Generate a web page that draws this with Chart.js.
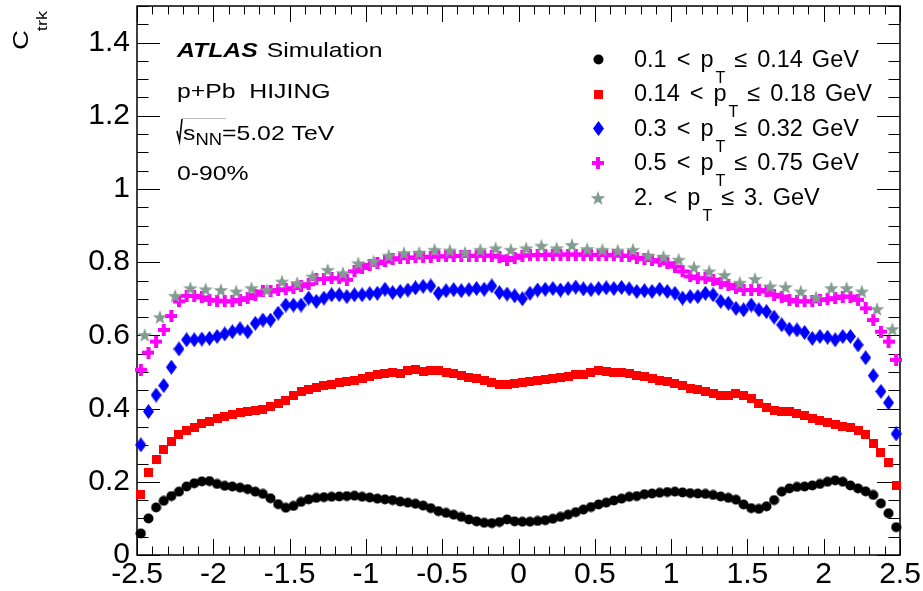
<!DOCTYPE html>
<html>
<head>
<meta charset="utf-8">
<script src="https://cdn.jsdelivr.net/npm/chart.js@4/dist/chart.umd.min.js"></script>
<style>
  html, body { margin: 0; padding: 0; background: #fff; }
  #wrap { width: 923px; height: 591px; }
</style>
</head>
<body>
<div id="wrap"><canvas id="ctrk" width="923" height="591"></canvas></div>
<script>
// eta bin centres: 0.05 wide bins for the four low-pT selections, 0.1 wide for the high-pT one
const etaFine = [
  -2.475, -2.425, -2.375, -2.325, -2.275, -2.225, -2.175, -2.125, -2.075, -2.025,
  -1.975, -1.925, -1.875, -1.825, -1.775, -1.725, -1.675, -1.625, -1.575, -1.525,
  -1.475, -1.425, -1.375, -1.325, -1.275, -1.225, -1.175, -1.125, -1.075, -1.025,
  -0.975, -0.925, -0.875, -0.825, -0.775, -0.725, -0.675, -0.625, -0.575, -0.525,
  -0.475, -0.425, -0.375, -0.325, -0.275, -0.225, -0.175, -0.125, -0.075, -0.025,
  0.025, 0.075, 0.125, 0.175, 0.225, 0.275, 0.325, 0.375, 0.425, 0.475,
  0.525, 0.575, 0.625, 0.675, 0.725, 0.775, 0.825, 0.875, 0.925, 0.975,
  1.025, 1.075, 1.125, 1.175, 1.225, 1.275, 1.325, 1.375, 1.425, 1.475,
  1.525, 1.575, 1.625, 1.675, 1.725, 1.775, 1.825, 1.875, 1.925, 1.975,
  2.025, 2.075, 2.125, 2.175, 2.225, 2.275, 2.325, 2.375, 2.425, 2.475
];
const etaCoarse = [
  -2.45, -2.35, -2.25, -2.15, -2.05, -1.95, -1.85, -1.75, -1.65, -1.55,
  -1.45, -1.35, -1.25, -1.15, -1.05, -0.95, -0.85, -0.75, -0.65, -0.55,
  -0.45, -0.35, -0.25, -0.15, -0.05, 0.05, 0.15, 0.25, 0.35, 0.45,
  0.55, 0.65, 0.75, 0.85, 0.95, 1.05, 1.15, 1.25, 1.35, 1.45,
  1.55, 1.65, 1.75, 1.85, 1.95, 2.05, 2.15, 2.25, 2.35, 2.45
];

// C_trk per pT selection
const ctrkPt010 = [
  0.059, 0.100, 0.130, 0.148, 0.161, 0.173, 0.187, 0.196, 0.201, 0.202,
  0.194, 0.189, 0.187, 0.184, 0.180, 0.173, 0.167, 0.155, 0.139, 0.129,
  0.134, 0.145, 0.152, 0.156, 0.158, 0.159, 0.160, 0.161, 0.162, 0.159,
  0.157, 0.154, 0.152, 0.150, 0.146, 0.143, 0.140, 0.135, 0.128, 0.120,
  0.115, 0.110, 0.104, 0.097, 0.092, 0.088, 0.087, 0.090, 0.097, 0.092,
  0.091, 0.091, 0.093, 0.095, 0.099, 0.104, 0.110, 0.117, 0.124, 0.131,
  0.138, 0.143, 0.149, 0.154, 0.159, 0.161, 0.166, 0.168, 0.170, 0.172,
  0.173, 0.171, 0.169, 0.168, 0.167, 0.164, 0.160, 0.156, 0.151, 0.138,
  0.128, 0.126, 0.133, 0.150, 0.173, 0.182, 0.186, 0.187, 0.190, 0.194,
  0.200, 0.204, 0.200, 0.190, 0.182, 0.174, 0.164, 0.141, 0.114, 0.076
];
const ctrkPt014 = [
  0.164, 0.225, 0.262, 0.287, 0.310, 0.328, 0.339, 0.349, 0.358, 0.364,
  0.372, 0.378, 0.383, 0.390, 0.392, 0.395, 0.398, 0.405, 0.413, 0.422,
  0.437, 0.446, 0.452, 0.457, 0.462, 0.467, 0.471, 0.474, 0.478, 0.483,
  0.487, 0.493, 0.497, 0.498, 0.497, 0.503, 0.506, 0.502, 0.503, 0.505,
  0.500, 0.495, 0.490, 0.485, 0.481, 0.476, 0.471, 0.467, 0.466, 0.468,
  0.470, 0.473, 0.476, 0.479, 0.482, 0.486, 0.489, 0.492, 0.494, 0.499,
  0.503, 0.502, 0.498, 0.500, 0.495, 0.490, 0.487, 0.482, 0.477, 0.473,
  0.469, 0.464, 0.456, 0.452, 0.447, 0.441, 0.436, 0.437, 0.442, 0.436,
  0.427, 0.413, 0.403, 0.394, 0.392, 0.392, 0.386, 0.380, 0.374, 0.367,
  0.362, 0.357, 0.352, 0.347, 0.340, 0.330, 0.305, 0.280, 0.253, 0.190
];
const ctrkPt030 = [
  0.301, 0.392, 0.437, 0.463, 0.513, 0.563, 0.588, 0.588, 0.590, 0.592,
  0.597, 0.604, 0.610, 0.618, 0.610, 0.633, 0.642, 0.642, 0.661, 0.683,
  0.683, 0.683, 0.702, 0.693, 0.702, 0.711, 0.711, 0.706, 0.711, 0.711,
  0.714, 0.715, 0.726, 0.717, 0.720, 0.724, 0.730, 0.734, 0.735, 0.715,
  0.722, 0.725, 0.722, 0.725, 0.728, 0.726, 0.735, 0.717, 0.713, 0.708,
  0.700, 0.715, 0.724, 0.726, 0.728, 0.724, 0.728, 0.732, 0.727, 0.725,
  0.728, 0.730, 0.728, 0.731, 0.727, 0.720, 0.722, 0.720, 0.726, 0.720,
  0.715, 0.702, 0.706, 0.706, 0.715, 0.711, 0.693, 0.688, 0.674, 0.670,
  0.683, 0.670, 0.665, 0.650, 0.629, 0.617, 0.615, 0.608, 0.592, 0.597,
  0.595, 0.588, 0.597, 0.597, 0.574, 0.539, 0.490, 0.447, 0.416, 0.331
];
const ctrkPt050 = [
  0.506, 0.553, 0.583, 0.615, 0.653, 0.693, 0.708, 0.708, 0.704, 0.697,
  0.695, 0.693, 0.693, 0.697, 0.702, 0.711, 0.720, 0.720, 0.724, 0.726,
  0.729, 0.734, 0.740, 0.754, 0.754, 0.756, 0.756, 0.752, 0.775, 0.784,
  0.793, 0.797, 0.802, 0.808, 0.811, 0.812, 0.813, 0.814, 0.815, 0.816,
  0.816, 0.817, 0.817, 0.817, 0.818, 0.818, 0.818, 0.815, 0.806, 0.812,
  0.818, 0.819, 0.820, 0.820, 0.821, 0.821, 0.821, 0.821, 0.821, 0.820,
  0.820, 0.820, 0.819, 0.818, 0.817, 0.812, 0.809, 0.806, 0.802, 0.797,
  0.788, 0.775, 0.761, 0.756, 0.756, 0.752, 0.743, 0.738, 0.729, 0.724,
  0.724, 0.724, 0.720, 0.711, 0.706, 0.697, 0.693, 0.693, 0.693, 0.697,
  0.699, 0.702, 0.706, 0.706, 0.697, 0.674, 0.642, 0.610, 0.583, 0.533
];
const ctrkPt2 = [
  0.601, 0.650, 0.708, 0.729, 0.726, 0.724, 0.720, 0.729, 0.724, 0.747,
  0.743, 0.761, 0.779, 0.770, 0.797, 0.802, 0.818, 0.825, 0.826, 0.834,
  0.832, 0.826, 0.834, 0.838, 0.834, 0.838, 0.845, 0.838, 0.847, 0.836,
  0.834, 0.832, 0.834, 0.818, 0.815, 0.807, 0.786, 0.775, 0.765, 0.744,
  0.754, 0.734, 0.732, 0.720, 0.704, 0.729, 0.729, 0.720, 0.672, 0.617
];

const ptLow = ["0.1", "0.14", "0.3", "0.5", "2."];
const ptHigh = ["0.14", "0.18", "0.32", "0.75", "3."];
const xTicks = [-2.5, -2, -1.5, -1, -0.5, 0, 0.5, 1, 1.5, 2, 2.5];
const yTicks = [0, 0.2, 0.4, 0.6, 0.8, 1, 1.2, 1.4];

const FONT = '"Liberation Sans", Arial, Helvetica, sans-serif';

// ROOT-like markers drawn on small canvases
function markerCanvas(w, h, paint) {
  const c = document.createElement("canvas");
  c.width = w; c.height = h;
  paint(c.getContext("2d"), w, h);
  return c;
}
const mCircle = markerCanvas(11, 11, (g, w, h) => {
  g.fillStyle = "#000";
  g.beginPath(); g.arc(w / 2, h / 2, 5, 0, Math.PI * 2); g.fill();
});
const mSquare = markerCanvas(9, 9, (g, w, h) => {
  g.fillStyle = "#ff0000"; g.fillRect(0, 0, w, h);
});
const mDiamond = markerCanvas(11, 15, (g, w, h) => {
  g.fillStyle = "#0000ff";
  g.beginPath();
  g.moveTo(w / 2, 0); g.lineTo(w, h / 2); g.lineTo(w / 2, h); g.lineTo(0, h / 2);
  g.closePath(); g.fill();
});
const mCross = markerCanvas(12, 12, (g, w, h) => {
  g.fillStyle = "#ff00ff";
  g.fillRect(4, 0, 4, h);
  g.fillRect(0, 4, w, 4);
});
const mStar = markerCanvas(16, 16, (g, w, h) => {
  g.fillStyle = "rgb(130,156,143)";
  g.beginPath();
  for (let i = 0; i < 10; i++) {
    const r = i % 2 ? 3.1 : 7.6;
    const a = -Math.PI / 2 + i * Math.PI / 5;
    const px = w / 2 + r * Math.cos(a), py = h / 2 + 0.7 + r * Math.sin(a);
    i ? g.lineTo(px, py) : g.moveTo(px, py);
  }
  g.closePath(); g.fill();
});
const markers = [mCircle, mSquare, mDiamond, mCross, mStar];

function pts(xs, ys) {
  return xs.map((x, i) => ({ x: x, y: ys[i] }));
}

function series(xs, ys, marker, order) {
  return {
    data: pts(xs, ys),
    pointStyle: marker,
    pointRadius: 5,
    showLine: false,
    clip: false,
    order: order,
  };
}

// text helper: draws with a horizontal stretch factor, returns the advance
function txt(ctx, s, x, y, font, sx) {
  ctx.font = font;
  const w = ctx.measureText(s).width * sx;
  ctx.save();
  ctx.translate(x, y);
  ctx.scale(sx, 1);
  ctx.fillText(s, 0, 0);
  ctx.restore();
  return w;
}

// frame with inward ticks on all four sides
const frame = {
  id: "frame",
  beforeDatasetsDraw(chart) {
    const { ctx, chartArea: a, scales } = chart;
    const x = scales.x, y = scales.y;
    ctx.save();
    ctx.strokeStyle = "#000";
    ctx.lineWidth = 1;
    ctx.beginPath();
    for (let k = -25; k <= 25; k++) {
      const px = Math.round(x.getPixelForValue(k / 10)) + 0.5;
      const len = k % 5 === 0 ? 16 : 8.5;
      ctx.moveTo(px, a.bottom); ctx.lineTo(px, a.bottom - len);
      ctx.moveTo(px, a.top); ctx.lineTo(px, a.top + len);
    }
    for (let k = 0; k <= 30; k++) {
      const py = Math.round(y.getPixelForValue(k / 20)) + 0.5;
      const len = k % 4 === 0 ? 23 : 11.5;
      ctx.moveTo(a.left, py); ctx.lineTo(a.left + len, py);
      ctx.moveTo(a.right, py); ctx.lineTo(a.right - len, py);
    }
    ctx.stroke();
    ctx.lineWidth = 1.5;
    ctx.strokeRect(a.left, a.top, a.right - a.left, a.bottom - a.top);
    ctx.restore();
  },
};

// axis title, ATLAS label block and legend
const annotations = {
  id: "annotations",
  afterDraw(chart) {
    const ctx = chart.ctx;
    ctx.save();
    ctx.fillStyle = "#000";
    ctx.textBaseline = "alphabetic";
    ctx.textAlign = "left";

    // y title C_trk, reading bottom to top
    ctx.save();
    ctx.translate(28, 50);
    ctx.rotate(-Math.PI / 2);
    const cw = txt(ctx, "C", 0, 0, "22px " + FONT, 1.25);
    txt(ctx, "trk", cw - 1, 19, "14px " + FONT, 1.3);
    ctx.restore();

    // label block
    const sx = 1.18, f = "21px " + FONT;
    const aw = txt(ctx, "ATLAS", 177, 57, "italic bold 21px " + FONT, sx);
    txt(ctx, "Simulation", 177 + aw + 9, 57, f, sx);
    txt(ctx, "p+Pb  HIJING", 177, 98, f, sx);
    ctx.strokeStyle = "#000";
    ctx.lineWidth = 1.6;
    ctx.beginPath();
    ctx.moveTo(177, 131); ctx.lineTo(179.5, 141); ctx.lineTo(182, 119);
    ctx.stroke();
    ctx.strokeStyle = "#bbb";
    ctx.lineWidth = 1;
    ctx.beginPath();
    ctx.moveTo(182, 118.5); ctx.lineTo(226, 118.5);
    ctx.stroke();
    const sw = txt(ctx, "s", 183, 140, f, sx);
    const nw = txt(ctx, "NN", 183 + sw, 145, "16px " + FONT, 1.15);
    txt(ctx, "=5.02 TeV", 183 + sw + nw, 140, f, sx);
    txt(ctx, "0-90%", 177, 180, f, sx);

    // legend
    const rowY = [59.5, 94, 128.5, 163, 197.5];
    const lf = "23.5px " + FONT;
    rowY.forEach((ry, i) => {
      const m = markers[i];
      ctx.drawImage(m, Math.round(598 - m.width / 2), Math.round(ry - m.height / 2));
      const base = ry + 7;
      let cx = 634;
      cx += txt(ctx, ptLow[i], cx, base, lf, 1) + 10;
      cx += txt(ctx, "<", cx, base, lf, 1) + 10;
      cx += txt(ctx, "p", cx, base, lf, 1) + 2;
      cx += txt(ctx, "T", cx, base + 16, "16px " + FONT, 1) + 9;
      cx += txt(ctx, "\u2264", cx, base, lf, 1) + 10;
      cx += txt(ctx, ptHigh[i], cx, base, lf, 1) + 9;
      txt(ctx, "GeV", cx, base, lf, 1);
    });
    ctx.restore();
  },
};

new Chart(document.getElementById("ctrk"), {
  type: "scatter",
  data: {
    datasets: [
      series(etaFine, ctrkPt010, mCircle, 5),
      series(etaFine, ctrkPt014, mSquare, 4),
      series(etaFine, ctrkPt030, mDiamond, 3),
      series(etaFine, ctrkPt050, mCross, 2),
      series(etaCoarse, ctrkPt2, mStar, 1),
    ],
  },
  options: {
    responsive: false,
    animation: false,
    events: [],
    layout: { padding: { left: 0, top: 6, right: 23, bottom: 0 } },
    plugins: { legend: { display: false }, tooltip: { enabled: false } },
    scales: {
      x: {
        type: "linear",
        min: -2.5,
        max: 2.5,
        grid: { display: false, drawTicks: false },
        border: { display: false },
        afterBuildTicks: (s) => { s.ticks = xTicks.map((v) => ({ value: v })); },
        afterFit: (s) => { s.height = 36; s.paddingLeft = 0; s.paddingRight = 0; },
        ticks: {
          color: "#000",
          font: { family: FONT, size: 30 },
          padding: 2,
          maxRotation: 0,
          autoSkip: false,
          callback: (v) => String(+v.toFixed(1)),
        },
      },
      y: {
        type: "linear",
        min: 0,
        max: 1.5,
        grid: { display: false, drawTicks: false },
        border: { display: false },
        afterBuildTicks: (s) => { s.ticks = yTicks.map((v) => ({ value: v })); },
        afterFit: (s) => { s.width = 137; s.paddingTop = 0; s.paddingBottom = 0; },
        ticks: {
          color: "#000",
          font: { family: FONT, size: 30 },
          padding: 7,
          callback: (v) => String(+v.toFixed(1)),
        },
      },
    },
  },
  plugins: [frame, annotations],
});
</script>
</body>
</html>
